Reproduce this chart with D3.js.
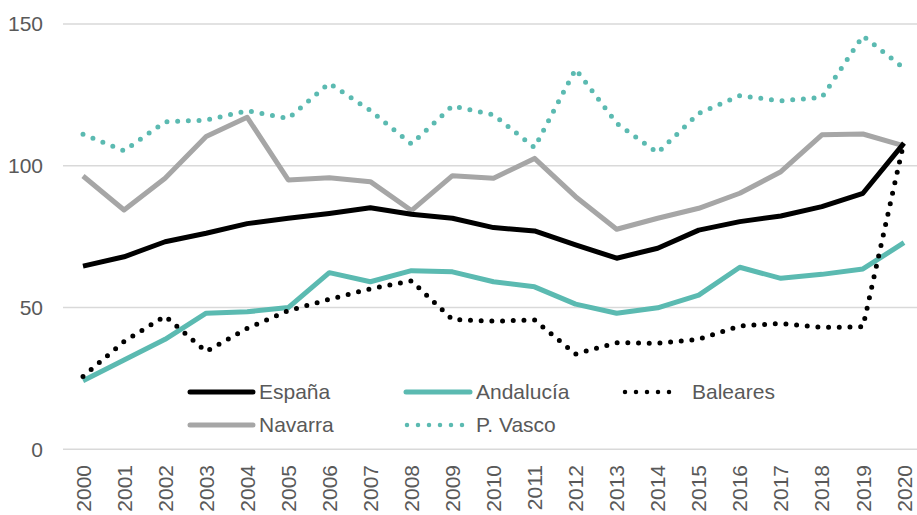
<!DOCTYPE html>
<html><head><meta charset="utf-8">
<script src="https://cdn.jsdelivr.net/npm/d3@7"></script>
<style>body{margin:0;background:#fff}svg{display:block}text{font-family:"Liberation Sans",Arial,sans-serif;fill:#595959}</style>
</head><body><svg id="c" width="917" height="515"></svg>
<script>
const years = ["2000","2001","2002","2003","2004","2005","2006","2007","2008","2009","2010","2011","2012","2013","2014","2015","2016","2017","2018","2019","2020"];
const espana    = [64.6,67.9,73.2,76.2,79.6,81.5,83.2,85.2,82.9,81.5,78.2,77.0,72.1,67.4,70.9,77.3,80.3,82.3,85.6,90.3,108.0];
const andalucia = [24.2,31.5,38.8,48.0,48.5,50.0,62.3,59.1,63.0,62.6,59.1,57.3,51.2,48.0,49.9,54.4,64.2,60.3,61.7,63.6,72.9];
const baleares  = [25.7,38.0,47.0,34.5,42.7,48.9,52.9,56.6,59.4,45.8,45.2,45.6,33.6,37.6,37.4,38.8,43.5,44.4,43.0,43.2,108.5];
const navarra   = [96.4,84.4,95.6,110.3,117.1,95.0,95.8,94.4,84.2,96.5,95.6,102.6,89.1,77.6,81.5,85.0,90.3,97.9,110.9,111.2,107.0];
const pvasco    = [111.1,105.3,115.5,116.1,119.4,116.7,129.1,119.5,107.7,121.1,118.0,106.4,134.1,115.0,104.6,118.5,124.7,122.9,124.1,145.8,134.4];
const yTicks = [0,50,100,150];

const series = [
  {name:"España", values:espana, color:"#000000", dotted:false},
  {name:"Andalucía", values:andalucia, color:"#5BBAB1", dotted:false},
  {name:"Baleares", values:baleares, color:"#000000", dotted:true},
  {name:"Navarra", values:navarra, color:"#A6A6A6", dotted:false},
  {name:"P. Vasco", values:pvasco, color:"#5BBAB1", dotted:true}
];

const svg = d3.select("#c");
const x = d3.scalePoint().domain(years).range([83,904]);
const y = d3.scaleLinear().domain([0,150]).range([449.3,24]);

svg.append("g").selectAll("line").data(yTicks).join("line")
  .attr("x1",63).attr("x2",917).attr("y1",d=>y(d)).attr("y2",d=>y(d))
  .attr("stroke","#D9D9D9").attr("stroke-width",1.5);

svg.append("g").selectAll("text").data(yTicks).join("text")
  .attr("x",43).attr("y",d=>y(d)).attr("dy","0.35em").attr("text-anchor","end")
  .attr("font-size",21).text(d=>d);

svg.append("g").selectAll("text").data(years).join("text")
  .attr("transform",d=>`translate(${x(d)},465) rotate(-90)`)
  .attr("dy","0.36em").attr("text-anchor","end").attr("font-size",21).text(d=>d);

const line = d3.line().x((d,i)=>x(years[i])).y(d=>y(d));
const order = [3,4,1,2,0];
svg.append("g").selectAll("path").data(order.map(i=>series[i])).join("path")
  .attr("d",d=>line(d.values)).attr("fill","none")
  .attr("stroke",d=>d.color)
  .attr("stroke-width",5)
  .attr("stroke-linecap",d=>d.dotted?"round":"butt")
  .attr("stroke-linejoin","round")
  .attr("stroke-dasharray",d=>d.dotted?"0 10.7":null);

const legendPos = [
  {s:0, x1:190, x2:253, tx:259, ty:392},
  {s:1, x1:406, x2:470, tx:476, ty:392},
  {s:2, x1:625, x2:680, tx:692, ty:392},
  {s:3, x1:190, x2:253, tx:259, ty:425},
  {s:4, x1:407, x2:465, tx:476, ty:425}
];
const lg = svg.append("g");
legendPos.forEach(p=>{
  const s = series[p.s];
  lg.append("line").attr("x1",p.x1).attr("x2",p.x2).attr("y1",p.ty).attr("y2",p.ty)
    .attr("stroke",s.color).attr("stroke-width",s.dotted?4.5:5)
    .attr("stroke-linecap","round")
    .attr("stroke-dasharray",s.dotted?"0 11":null);
  lg.append("text").attr("x",p.tx).attr("y",p.ty).attr("dy","0.35em")
    .attr("font-size",21).text(s.name);
});
</script></body></html>
